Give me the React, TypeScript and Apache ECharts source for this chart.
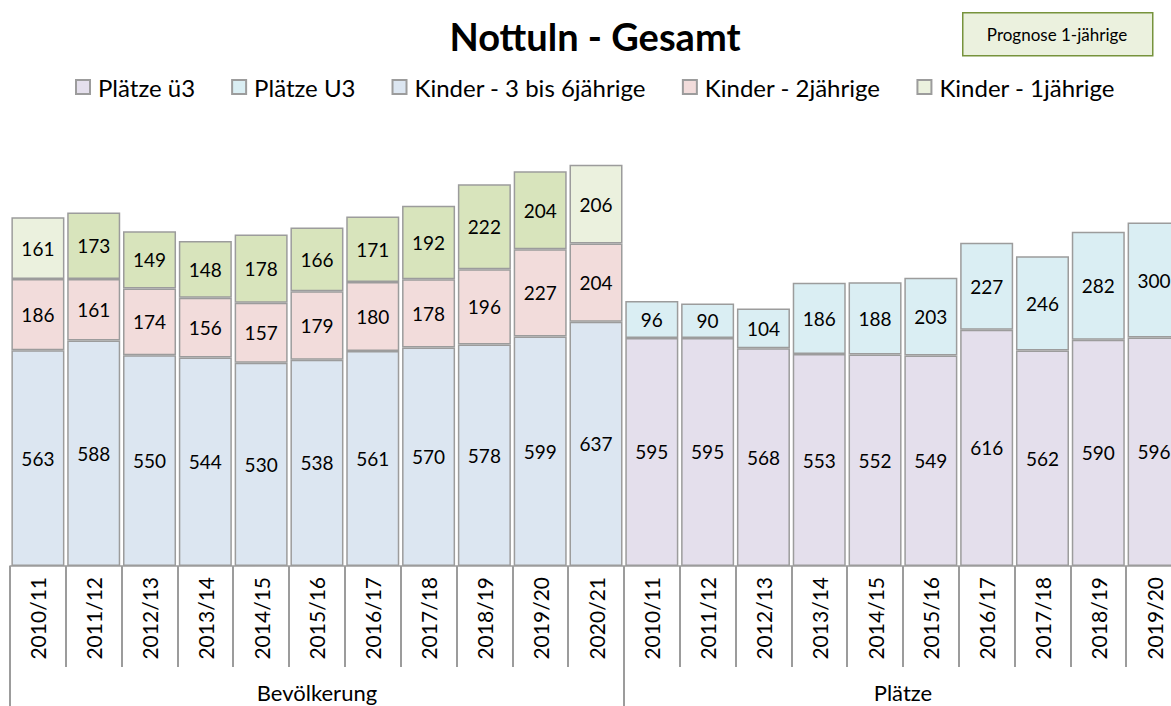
import React, { useEffect, useRef } from "react";
import * as echarts from "echarts";

const bevYears = ["2010/11","2011/12","2012/13","2013/14","2014/15","2015/16","2016/17","2017/18","2018/19","2019/20","2020/21"];
const platzYears = ["2010/11","2011/12","2012/13","2013/14","2014/15","2015/16","2016/17","2017/18","2018/19","2019/20"];
const groupNames = ["Bevölkerung", "Plätze"];

const kinder3bis6 = [563,588,550,544,530,538,561,570,578,599,637];
const kinder2 = [186,161,174,156,157,179,180,178,196,227,204];
const kinder1 = [161,173,149,148,178,166,171,192,222,204,206];
const kinder1Prognose = [false,true,true,true,true,true,true,true,true,true,false];
const plaetzeUe3 = [595,595,568,553,552,549,616,562,590,596];
const plaetzeU3 = [96,90,104,186,188,203,227,246,282,300];

const FONT = "Lato";

export default function App() {
  const ref = useRef<HTMLDivElement>(null);
  useEffect(() => {
    if (!ref.current) return;
    const chart = echarts.init(ref.current, null, { renderer: "svg" });
    const nB = bevYears.length;
    const nP = platzYears.length;
    const categories = [
      ...bevYears.map((y) => "B|" + y),
      ...platzYears.map((y) => "P|" + y),
    ];
    const pad = (arr: any[], before: number, after: number) => [
      ...Array(before).fill(null),
      ...arr,
      ...Array(after).fill(null),
    ];
    const border = { borderColor: "#9c9c9c", borderWidth: 1.5 };
    const label = {
      show: true,
      position: "inside",
      color: "#000",
      fontFamily: FONT,
      fontSize: 19,
    };
    const mk = (name: string, data: any[], color: string) => ({
      name,
      type: "bar",
      stack: "all",
      barCategoryGap: "5%",
      data,
      itemStyle: { color, ...border },
      label,
    });
    const k1Data = kinder1.map((v, i) =>
      kinder1Prognose[i] ? { value: v, itemStyle: { color: "#d8e4bc" } } : v
    );
    const option = {
      animation: false,
      title: {
        text: "Nottuln - Gesamt",
        left: "center",
        top: 12,
        textStyle: { fontFamily: FONT, fontSize: 38, fontWeight: "bold", color: "#000" },
      },
      legend: {
        top: 70,
        left: "center",
        itemWidth: 14,
        itemHeight: 14,
        itemGap: 36,
        icon: "rect",
        textStyle: { fontFamily: FONT, fontSize: 24, color: "#000", padding: [0, 0, 0, 3] },
        data: ["Plätze ü3", "Plätze U3", "Kinder - 3 bis 6jährige", "Kinder - 2jährige", "Kinder - 1jährige"],
      },
      grid: { left: 10, right: 8, top: 106, bottom: 140 },
      xAxis: [
        {
          type: "category",
          data: categories,
          axisLine: { show: true, lineStyle: { color: "#9c9c9c", width: 1.5 } },
          axisTick: { show: true, interval: 0, length: 101, lineStyle: { color: "#9c9c9c", width: 2 } },
          axisLabel: {
            interval: 0,
            rotate: 90,
            margin: 11,
            fontFamily: FONT,
            fontSize: 21,
            color: "#000",
            formatter: (v: string) => v.split("|")[1],
          },
        },
        {
          type: "value",
          min: 0,
          max: nB + nP,
          position: "bottom",
          axisLine: { show: false },
          splitLine: { show: false },
          axisTick: {
            show: true,
            customValues: [0, nB, nB + nP],
            length: 141,
            lineStyle: { color: "#9c9c9c", width: 2 },
          },
          axisLabel: {
            show: true,
            customValues: [nB / 2, nB + nP / 2],
            margin: 115,
            fontFamily: FONT,
            fontSize: 22,
            color: "#000",
            formatter: (v: number) => (v < nB ? groupNames[0] : groupNames[1]),
          },
        },
      ],
      yAxis: { type: "value", min: 0, max: 1200, show: false, splitLine: { show: false } },
      graphic: [
        {
          type: "rect",
          left: 962,
          top: 12,
          shape: { width: 190, height: 43 },
          style: { fill: "#ebf1de", stroke: "#77933c", lineWidth: 1.5 },
        },
        {
          type: "text",
          x: 1057,
          y: 34,
          style: {
            text: "Prognose 1-jährige",
            fontFamily: FONT,
            fontSize: 17,
            fill: "#000",
            align: "center",
            verticalAlign: "middle",
          },
        },
      ],
      series: [
        mk("Plätze ü3", pad(plaetzeUe3, nB, 0), "#e4dfec"),
        mk("Plätze U3", pad(plaetzeU3, nB, 0), "#daeef3"),
        mk("Kinder - 3 bis 6jährige", pad(kinder3bis6, 0, nP), "#dce6f1"),
        mk("Kinder - 2jährige", pad(kinder2, 0, nP), "#f2dcdb"),
        mk("Kinder - 1jährige", pad(k1Data, 0, nP), "#ebf1de"),
      ],
    };
    chart.setOption(option as any);
    return () => chart.dispose();
  }, []);
  return (
    <div style={{ position: "fixed", left: 0, top: 0, width: 1171, height: 706, overflow: "hidden", background: "#fff" }}>
      <div ref={ref} style={{ width: 1190, height: 706 }} />
    </div>
  );
}
